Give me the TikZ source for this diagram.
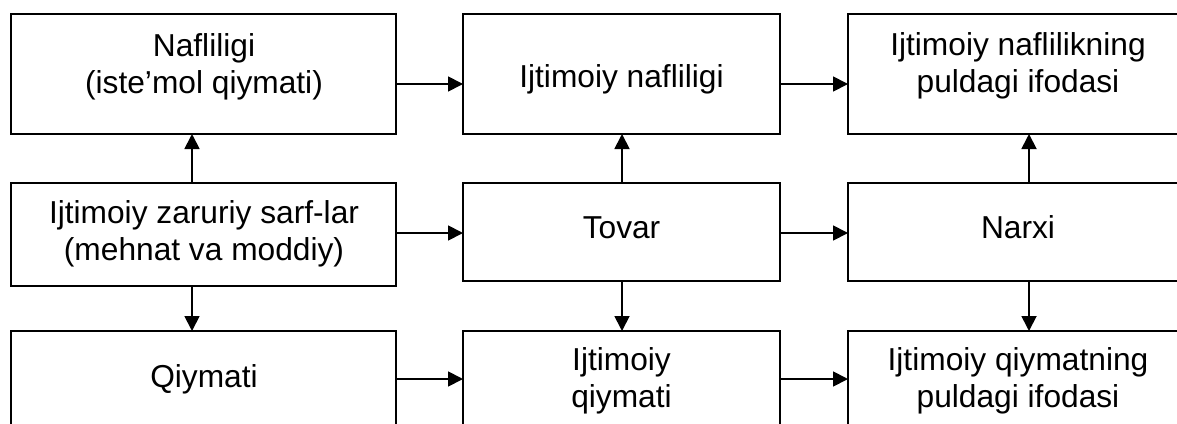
\documentclass[tikz,border=0pt]{standalone}
\usepackage{fontspec}
\setmainfont{Liberation Sans}
\usetikzlibrary{arrows.meta}
\tikzset{
  box/.style={draw=black, line width=1.8pt, inner sep=0pt, outer sep=0pt, rectangle},
  txt/.style={anchor=base, align=center, inner sep=0pt, font=\fontsize{31.7}{37}\selectfont},
  conn/.style={line width=1.8pt, -{Triangle[length=15pt,width=15pt]}}
}
\begin{document}
\begin{tikzpicture}[x=1pt,y=-1pt]
\useasboundingbox (0,0) rectangle (1177,423);
\clip (0,0) rectangle (1177,423);
% boxes: row 1 (y 14-134)
\node[box, minimum width=385pt, minimum height=120pt] (a1) at (203.5,74) {};
\node[box, minimum width=317pt, minimum height=120pt] (b1) at (621.5,74) {};
\node[box, minimum width=342pt, minimum height=120pt] (c1) at (1019,74) {};
% row 2
\node[box, minimum width=385pt, minimum height=103pt] (a2) at (203.5,234.5) {};
\node[box, minimum width=317pt, minimum height=98pt] (b2) at (621.5,232) {};
\node[box, minimum width=342pt, minimum height=98pt] (c2) at (1019,232) {};
% row 3
\node[box, minimum width=385pt, minimum height=140pt] (a3) at (203.5,401) {};
\node[box, minimum width=317pt, minimum height=140pt] (b3) at (621.5,401) {};
\node[box, minimum width=342pt, minimum height=140pt] (c3) at (1019,401) {};
% texts (anchor=base is the baseline of the last line)
\node[txt] (ta1) at (204,93) {Nafliligi\\(iste’mol qiymati)};
\node[txt] (tb1) at (621.5,87) {Ijtimoiy nafliligi};
\node[txt] (tc1) at (1018,92) {Ijtimoiy naflilikning\\puldagi ifodasi};
\node[txt] (ta2) at (204,260) {Ijtimoiy zaruriy sarf-lar\\(mehnat va moddiy)};
\node[txt] (tb2) at (621.5,238) {Tovar};
\node[txt] (tc2) at (1018,238) {Narxi};
\node[txt] (ta3) at (204,387) {Qiymati};
\node[txt] (tb3) at (621.5,407) {Ijtimoiy\\qiymati};
\node[txt] (tc3) at (1018,407) {Ijtimoiy qiymatning\\puldagi ifodasi};
% horizontal connectors
\draw[conn] (a1.east |- 0,84) -- (b1.west |- 0,84);
\draw[conn] (b1.east |- 0,84) -- (c1.west |- 0,84);
\draw[conn] (a2.east |- 0,233) -- (b2.west |- 0,233);
\draw[conn] (b2.east |- 0,233) -- (c2.west |- 0,233);
\draw[conn] (a3.east |- 0,379) -- (b3.west |- 0,379);
\draw[conn] (b3.east |- 0,379) -- (c3.west |- 0,379);
% vertical connectors
\draw[conn] (a2.north -| 192,0) -- (a1.south -| 192,0);
\draw[conn] (a2.south -| 192,0) -- (a3.north -| 192,0);
\draw[conn] (b2.north -| 622,0) -- (b1.south -| 622,0);
\draw[conn] (b2.south -| 622,0) -- (b3.north -| 622,0);
\draw[conn] (c2.north -| 1029,0) -- (c1.south -| 1029,0);
\draw[conn] (c2.south -| 1029,0) -- (c3.north -| 1029,0);
\end{tikzpicture}
\end{document}
